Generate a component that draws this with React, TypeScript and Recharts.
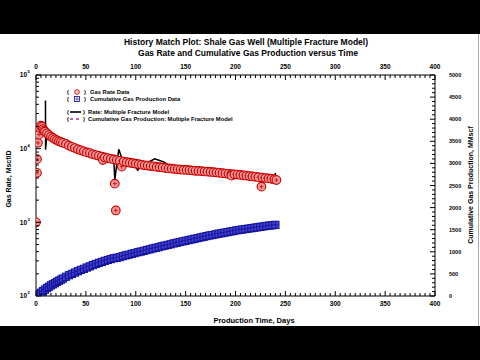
import { ComposedChart, XAxis, YAxis, Scatter, Line } from 'recharts';

// measured gas rate (Mscf/D)
const rateDays = [0, 1, 1, 2, 3, 4, 5, 6, 7, 8, 9, 11, 13, 15, 17, 19, 21, 23, 25, 27, 30, 33, 36, 39, 42, 45, 48, 51, 54, 57, 60, 63, 66, 67, 69, 72, 75, 78, 79, 80, 81, 84, 86, 88, 91, 94, 97, 100, 103, 106, 109, 112, 115, 118, 121, 124, 127, 130, 133, 136, 139, 142, 145, 148, 151, 154, 157, 160, 163, 166, 169, 172, 175, 178, 181, 184, 187, 190, 193, 196, 196, 199, 202, 205, 208, 211, 214, 217, 220, 223, 226, 227, 230, 233, 236, 239, 241];
const rateValues = [1000, 4700, 7200, 12000, 15500, 19000, 20500, 19800, 18500, 17600, 17000, 16200, 15300, 14600, 14000, 13400, 13000, 12600, 12300, 12000, 11600, 11000, 10600, 10200, 9800, 9500, 9200, 8900, 8700, 8400, 8200, 8000, 7800, 7000, 7600, 7450, 7300, 7150, 3350, 1450, 7000, 6850, 5700, 6700, 6550, 6450, 6350, 6250, 6150, 6050, 5950, 5900, 5800, 5750, 5650, 5600, 5550, 5450, 5400, 5350, 5300, 5250, 5200, 5150, 5150, 5100, 5050, 5000, 4980, 4950, 4900, 4870, 4830, 4800, 4750, 4700, 4650, 4600, 4550, 4500, 4300, 4480, 4450, 4400, 4350, 4300, 4250, 4200, 4150, 4100, 3050, 4050, 4000, 3950, 3900, 3850, 3750];

// measured cumulative production (MMscf)
const cumDays = [0, 1, 2, 3, 5, 7, 9, 11, 13, 15, 17, 19, 21, 23, 25, 27, 30, 33, 36, 39, 42, 45, 48, 51, 54, 57, 60, 63, 66, 69, 72, 75, 78, 81, 84, 87, 90, 93, 96, 99, 102, 105, 108, 111, 114, 117, 120, 123, 126, 129, 132, 135, 138, 141, 144, 147, 150, 153, 156, 159, 162, 165, 168, 171, 174, 177, 180, 183, 186, 189, 192, 195, 198, 201, 204, 207, 210, 213, 216, 219, 222, 225, 228, 231, 234, 237, 240];
const cumValues = [0, 15, 30, 45, 75, 110, 145, 180, 210, 240, 265, 290, 320, 345, 370, 395, 435, 470, 500, 530, 560, 590, 615, 645, 670, 700, 725, 750, 770, 795, 815, 835, 855, 865, 880, 900, 920, 935, 955, 970, 990, 1005, 1020, 1040, 1055, 1075, 1090, 1105, 1125, 1140, 1155, 1170, 1190, 1205, 1220, 1235, 1250, 1265, 1280, 1295, 1310, 1325, 1340, 1355, 1370, 1380, 1395, 1410, 1420, 1435, 1445, 1460, 1470, 1485, 1495, 1505, 1515, 1525, 1535, 1545, 1555, 1565, 1575, 1585, 1595, 1600, 1610];

// multiple fracture model
const modelRateDays = [9.5, 9.6, 11, 14, 20, 28, 40, 48, 60, 74, 78, 79, 83, 86, 89, 93, 99, 102, 106, 112, 119, 124, 128, 136, 138, 151, 170, 190, 210, 222, 226, 232, 239, 240];
const modelRateValues = [45000, 9700, 15500, 15000, 13000, 11200, 9800, 8900, 8100, 7500, 7200, 3800, 9800, 7500, 6500, 6600, 5800, 5100, 6100, 6500, 7300, 6900, 6600, 5600, 6000, 5300, 4950, 4650, 4400, 4250, 3800, 3900, 3850, 4700];
const modelCumDays = [0, 5, 10, 20, 30, 40, 50, 60, 70, 80, 90, 100, 120, 140, 160, 180, 200, 220, 240];
const modelCumValues = [0, 75, 165, 305, 435, 545, 640, 725, 800, 860, 920, 975, 1090, 1200, 1300, 1395, 1480, 1550, 1610];

const xLabels = [0, 50, 100, 150, 200, 250, 300, 350, 400];
const rateDecades = [100, 1000, 10000, 100000];
const cumLabels = [0, 500, 1000, 1500, 2000, 2500, 3000, 3500, 4000, 4500, 5000];

const xTicks: number[] = [];
for (let d = 0; d <= 400; d += 5) xTicks.push(d);
const rateTicks: number[] = [];
for (let k = 0; k < 3; k++) for (let m = 1; m <= 9; m++) rateTicks.push(m * rateDecades[k]);
rateTicks.push(100000);
const cumTicks: number[] = [];
for (let v = 0; v <= 5000; v += 100) cumTicks.push(v);

const rateData = rateDays.map((day, i) => ({ day, rate: rateValues[i] }));
const cumData = cumDays.map((day, i) => ({ day, cum: cumValues[i] }));
const modelRate = modelRateDays.map((day, i) => ({ day, rate: modelRateValues[i] }));
const modelCum = modelCumDays.map((day, i) => ({ day, cum: modelCumValues[i] }));

const FONT = 'Arial, "Liberation Sans", Helvetica, sans-serif';
const GAP = 4;
const RED = '#c80000';
const BLUE = '#10109c';

const BottomTick = (p: any) => {
  const axisY = p.y - GAP;
  const major = xLabels.includes(p.payload.value);
  return (
    <g>
      <line x1={p.x} y1={axisY} x2={p.x} y2={axisY - (major ? 5 : 3)} stroke="#000" />
      {major && (
        <text x={p.x} y={axisY + 9.5} textAnchor="middle" fontSize={6.5} fontWeight="bold" fontFamily={FONT} fill="#000">
          {p.payload.value}
        </text>
      )}
    </g>
  );
};

const TopTick = (p: any) => {
  const axisY = p.y + GAP;
  const major = xLabels.includes(p.payload.value);
  return (
    <g>
      <line x1={p.x} y1={axisY} x2={p.x} y2={axisY + (major ? 5 : 3)} stroke="#000" />
      {major && (
        <text x={p.x} y={axisY - 5.6} textAnchor="middle" fontSize={6.5} fontWeight="bold" fontFamily={FONT} fill="#000">
          {p.payload.value}
        </text>
      )}
    </g>
  );
};

const LeftTick = (p: any) => {
  const axisX = p.x + GAP;
  const v = p.payload.value;
  const major = rateDecades.includes(v);
  return (
    <g>
      <line x1={axisX} y1={p.y} x2={axisX + (major ? 5 : 3)} y2={p.y} stroke="#000" />
      {major && (
        <g fontWeight="bold" fontFamily={FONT} fill="#000">
          <text x={axisX - 9} y={p.y + 2.4} textAnchor="end" fontSize={6.5}>10</text>
          <text x={axisX - 8.5} y={p.y - 1.7} fontSize={4.2}>{Math.round(Math.log10(v))}</text>
        </g>
      )}
    </g>
  );
};

const RightTick = (p: any) => {
  const axisX = p.x - GAP;
  const major = cumLabels.includes(p.payload.value);
  return (
    <g>
      <line x1={axisX} y1={p.y} x2={axisX - (major ? 5 : 3)} y2={p.y} stroke="#000" />
      {major && (
        <text x={axisX + 14} y={p.y + 2} fontSize={5.5} fontWeight="bold" fontFamily={FONT} fill="#000">
          {p.payload.value}
        </text>
      )}
    </g>
  );
};

const RateMarker = (p: any) => {
  const { cx, cy } = p;
  return (
    <g>
      <circle cx={cx} cy={cy} r={4.3} fill="#f29a9a" stroke={RED} strokeWidth={1.1} />
      <path d={`M${cx - 2},${cy}H${cx + 2}M${cx},${cy - 2}V${cy + 2}`} stroke={RED} strokeWidth={0.8} />
    </g>
  );
};

const CumMarker = (p: any) => {
  const { cx, cy } = p;
  return (
    <g>
      <rect x={cx - 3.6} y={cy - 3.6} width={7.2} height={7.2} fill="#4444cc" stroke={BLUE} strokeWidth={1} />
      <path d={`M${cx - 3.6},${cy}H${cx + 3.6}M${cx},${cy - 3.6}V${cy + 3.6}`} stroke={BLUE} strokeWidth={0.8} />
    </g>
  );
};

function Overlay() {
  const legendText = { fontSize: 5.8, fontWeight: 'bold' as const, fontFamily: FONT, fill: '#000' };
  return (
    <svg width={480} height={360} style={{ position: 'absolute', left: 0, top: 0, pointerEvents: 'none' }}>
      <rect x={0} y={0} width={480} height={34} fill="#000" />
      <rect x={0} y={326} width={480} height={34} fill="#000" />
      <line x1={478.5} y1={34} x2={478.5} y2={326} stroke="#aaa" />
      <g fontFamily={FONT} fontWeight="bold" fill="#000" textAnchor="middle">
        <text x={246} y={45} fontSize={8.5}>History Match Plot: Shale Gas Well (Multiple Fracture Model)</text>
        <text x={248} y={55.5} fontSize={8.5}>Gas Rate and Cumulative Gas Production versus Time</text>
        <text x={254} y={323} fontSize={7.5}>Production Time, Days</text>
        <text transform="translate(10.5,179) rotate(-90)" fontSize={7}>Gas Rate, Mscf/D</text>
        <text transform="translate(473,185) rotate(-90)" fontSize={7}>Cumulative Gas Production, MMscf</text>
      </g>
      <g {...legendText}>
        <text x={67} y={94}>(</text>
        <circle cx={77} cy={92} r={2.4} fill="#f6caca" stroke={RED} strokeWidth={0.8} />
        <text x={84} y={94}>)</text>
        <text x={90} y={94}>Gas Rate Data</text>
        <text x={67} y={101}>(</text>
        <rect x={74.5} y={96.5} width={5} height={5} fill="#fff" stroke={BLUE} strokeWidth={0.8} />
        <path d="M74.5,99H79.5M77,96.5V101.5" stroke={BLUE} strokeWidth={0.6} />
        <text x={84} y={101}>)</text>
        <text x={90} y={101}>Cumulative Gas Production Data</text>
        <text x={67} y={114}>(</text>
        <line x1={70} y1={112} x2={81} y2={112} stroke="#000" strokeWidth={1.6} />
        <text x={83} y={114}>)</text>
        <text x={88} y={114}>Rate: Multiple Fracture Model</text>
        <text x={67} y={121}>(</text>
        <line x1={70} y1={119} x2={81} y2={119} stroke="#b03090" strokeWidth={1.4} strokeDasharray="3 3" />
        <text x={83} y={121}>)</text>
        <text x={88} y={121}>Cumulative Gas Production: Multiple Fracture Model</text>
      </g>
    </svg>
  );
}

export default function App() {
  return (
    <div style={{ position: 'absolute', left: 0, top: 0, width: 480, height: 360, background: '#fff' }}>
      <ComposedChart width={480} height={360} margin={{ top: 0, right: 0, bottom: 0, left: 0 }}>
        <XAxis xAxisId="bottom" dataKey="day" type="number" domain={[0, 400]} ticks={xTicks} interval={0}
          allowDataOverflow height={64} stroke="#000" tickLine={false} tickSize={0} tickMargin={GAP} tick={BottomTick} />
        <XAxis xAxisId="top" orientation="top" dataKey="day" type="number" domain={[0, 400]} ticks={xTicks} interval={0}
          allowDataOverflow height={75} stroke="#000" tickLine={false} tickSize={0} tickMargin={GAP} tick={TopTick} />
        <YAxis yAxisId="rate" scale="log" type="number" domain={[100, 100000]} ticks={rateTicks} interval={0}
          allowDataOverflow width={36} stroke="#000" tickLine={false} tickSize={0} tickMargin={GAP} tick={LeftTick} />
        <YAxis yAxisId="cum" orientation="right" type="number" domain={[0, 5000]} ticks={cumTicks} interval={0}
          allowDataOverflow width={45} stroke="#000" tickLine={false} tickSize={0} tickMargin={GAP} tick={RightTick} />
        <Scatter xAxisId="bottom" yAxisId="rate" data={rateData} dataKey="rate" shape={RateMarker} isAnimationActive={false} />
        <Scatter xAxisId="bottom" yAxisId="cum" data={cumData} dataKey="cum" shape={CumMarker} isAnimationActive={false} />
        <Line xAxisId="bottom" yAxisId="rate" data={modelRate} dataKey="rate" type="linear" stroke="#000" strokeWidth={1.5}
          dot={false} isAnimationActive={false} />
        <Line xAxisId="bottom" yAxisId="cum" data={modelCum} dataKey="cum" type="monotone" stroke="#e088f0" strokeWidth={1.5}
          strokeDasharray="5 4" dot={false} isAnimationActive={false} />
      </ComposedChart>
      <Overlay />
    </div>
  );
}
